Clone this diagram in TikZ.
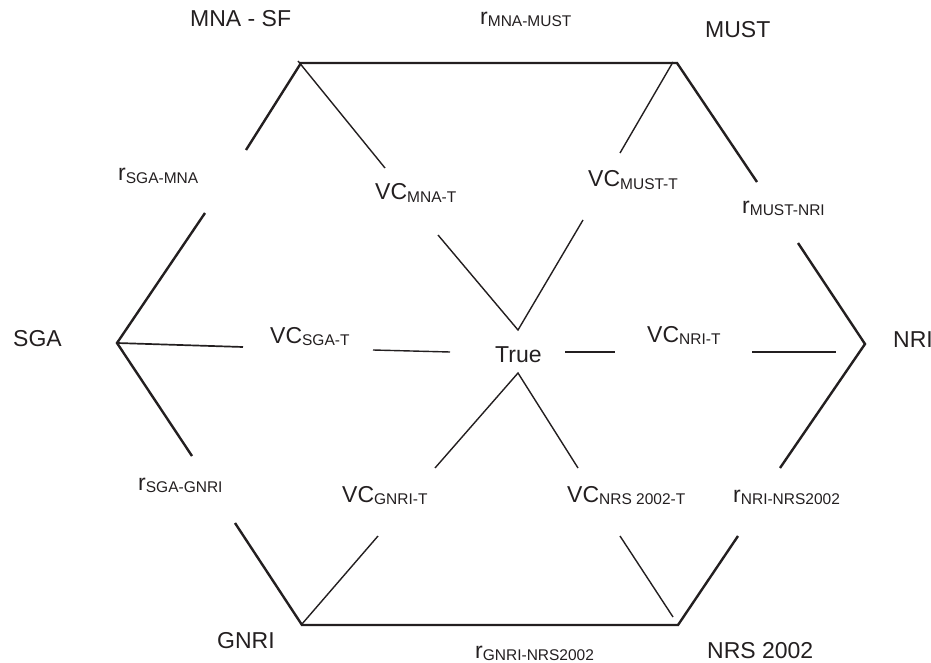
\documentclass[tikz,border=0pt]{standalone}
\usepackage{fontspec}
\setmainfont{Liberation Sans}
\definecolor{ink}{HTML}{231F20}
\newcommand{\lsub}[1]{\raisebox{-2pt}{\fontsize{15.5}{18}\selectfont #1}}
\begin{document}
\begin{tikzpicture}[x=1pt,y=-1pt, color=ink,
  lbl/.style={font=\fontsize{23}{26}\selectfont, inner sep=0pt, anchor=base west, text=ink},
  edgeline/.style={line width=2.4pt, line join=miter, draw=ink},
  spokeline/.style={line width=1.4pt, draw=ink},
  midline/.style={line width=1.7pt, draw=ink}]
\useasboundingbox (0,0) rectangle (931,663);

% labels
\node[lbl] (mna)  at (190,27)  {MNA - SF};
\node[lbl] (rmm)  at (480,25)  {r\lsub{MNA-MUST}};
\node[lbl] (must) at (705,38)  {MUST};
\node[lbl] (rsm)  at (118,181) {r\lsub{SGA-MNA}};
\node[lbl] (vcm)  at (375,200) {VC\lsub{MNA-T}};
\node[lbl] (vcu)  at (588,187) {VC\lsub{MUST-T}};
\node[lbl] (rmn)  at (742,213) {r\lsub{MUST-NRI}};
\node[lbl] (sga)  at (13,346)  {SGA};
\node[lbl] (vcs)  at (270,343) {VC\lsub{SGA-T}};
\node[lbl] (true) at (495,362) {True};
\node[lbl] (vcn)  at (647,342) {VC\lsub{NRI-T}};
\node[lbl] (nri)  at (893,347) {NRI};
\node[lbl] (rsg)  at (138,490) {r\lsub{SGA-GNRI}};
\node[lbl] (vcg)  at (342,502) {VC\lsub{GNRI-T}};
\node[lbl] (vcr)  at (567,502) {VC\lsub{NRS 2002-T}};
\node[lbl] (rnn)  at (733,502) {r\lsub{NRI-NRS2002}};
\node[lbl] (gnri) at (217,648) {GNRI};
\node[lbl] (rgn)  at (475,658) {r\lsub{GNRI-NRS2002}};
\node[lbl] (nrs)  at (707,658) {NRS 2002};

% corner points
\coordinate (pMNA)  at (301,63);
\coordinate (pMUST) at (677,63);
\coordinate (pNRI)  at (865,344);
\coordinate (pNRS)  at (678,625);
\coordinate (pGNRI) at (302,625);
\coordinate (pSGA)  at (117,343);
\coordinate (tTop)  at (518,330);
\coordinate (tBot)  at (518,373);

% segment ends
\coordinate (a1) at (246,150);
\coordinate (a2) at (205,213);
\coordinate (b1) at (757,182);
\coordinate (b2) at (798,243);
\coordinate (c1) at (780,468);
\coordinate (c2) at (738,536);
\coordinate (d1) at (192,456);
\coordinate (d2) at (235,523);
\coordinate (m0) at (298,61);
\coordinate (m1) at (385,168);
\coordinate (m2) at (438,235);
\coordinate (u0) at (673,62);
\coordinate (u1) at (620,153);
\coordinate (u2) at (583,220);
\coordinate (g0) at (302,624);
\coordinate (g1) at (378,536);
\coordinate (g2) at (435,468);
\coordinate (n0) at (673,617);
\coordinate (n1) at (620,536);
\coordinate (n2) at (578,468);
\coordinate (h1) at (243,347);
\coordinate (h2) at (373,350);
\coordinate (h3) at (450,352);
\coordinate (h4) at (565,352);
\coordinate (h5) at (615,352);
\coordinate (h6) at (752,352);
\coordinate (h7) at (836,352);

% outer hexagon (broken at labels)
\draw[edgeline] (a1) -- (pMNA) -- (pMUST) -- (b1);
\draw[edgeline] (a2) -- (pSGA) -- (d1);
\draw[edgeline] (b2) -- (pNRI) -- (c1);
\draw[edgeline] (d2) -- (pGNRI) -- (pNRS) -- (c2);

% spokes to True
\draw[spokeline] (m0) -- (m1);
\draw[spokeline] (m2) -- (tTop) -- (u2);
\draw[spokeline] (u1) -- (u0);
\draw[spokeline] (g2) -- (tBot) -- (n2);
\draw[spokeline] (g1) -- (g0);
\draw[spokeline] (n1) -- (n0);
\draw[midline] (pSGA) -- (h1);
\draw[spokeline] (h2) -- (h3);
\draw[spokeline] (h4) -- (h5);
\draw[spokeline] (h6) -- (h7);
\end{tikzpicture}
\end{document}
